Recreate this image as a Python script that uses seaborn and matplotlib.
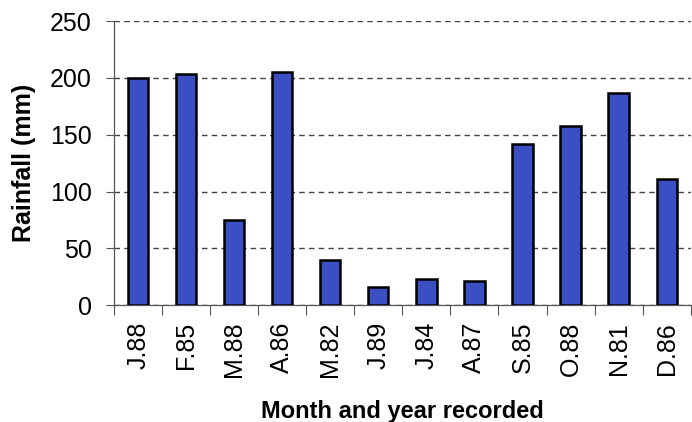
#!/usr/bin/env python3

import numpy as np
import pandas as pd
import matplotlib
matplotlib.use("Agg")
import matplotlib.pyplot as plt
import seaborn as sns

months = ["J.88", "F.85", "M.88", "A.86", "M.82", "J.89",
          "J.84", "A.87", "S.85", "O.88", "N.81", "D.86"]
rainfall = [200, 203, 75, 205, 40, 16, 23, 21, 142, 158, 187, 111]

df = pd.DataFrame({"month": months, "rain": rainfall})

sns.set_style("white", {"text.color": "black", "axes.labelcolor": "black",
                        "xtick.color": "black", "ytick.color": "black"})
plt.rcParams["font.family"] = ["Liberation Sans", "DejaVu Sans"]

fig = plt.figure(figsize=(6.92, 4.22), dpi=100)
ax = fig.add_axes([0.165, 0.277, 0.833, 0.673])

sns.barplot(df, x="month", y="rain", color="#3B4FC2", saturation=1,
            width=0.42, edgecolor="black", linewidth=1.8, ax=ax, zorder=3)

ax.set_ylim(0, 250)
ax.set_xlim(-0.5, len(months) - 0.5)
ax.set_yticks(range(0, 251, 50))
ax.yaxis.grid(True, linestyle=(0, (4, 3)), color="#444444", linewidth=1.0)
ax.set_axisbelow(True)

# tick marks sit between the bars, labels sit under them
ax.set_xticks(np.arange(-0.5, len(months), 1), minor=True)
ax.tick_params(axis="x", which="major", length=0, pad=12, labelsize=18,
               rotation=90, labelcolor="black")
ax.tick_params(axis="x", which="minor", length=7, width=0.8, color="#555555",
               direction="out", bottom=True)
ax.tick_params(axis="y", which="major", length=6, width=0.8, color="#555555",
               direction="out", left=True, labelsize=18, pad=10,
               labelcolor="black")

sns.despine(ax=ax, top=True, right=True)
for side in ["left", "bottom"]:
    ax.spines[side].set_color("#555555")
    ax.spines[side].set_linewidth(0.9)

ax.set_ylabel("Rainfall (mm)", fontsize=18, fontweight="bold", labelpad=10)
ax.set_xlabel("Month and year recorded", fontsize=17, fontweight="bold",
              labelpad=16)

fig.savefig("out.png", dpi=100)
